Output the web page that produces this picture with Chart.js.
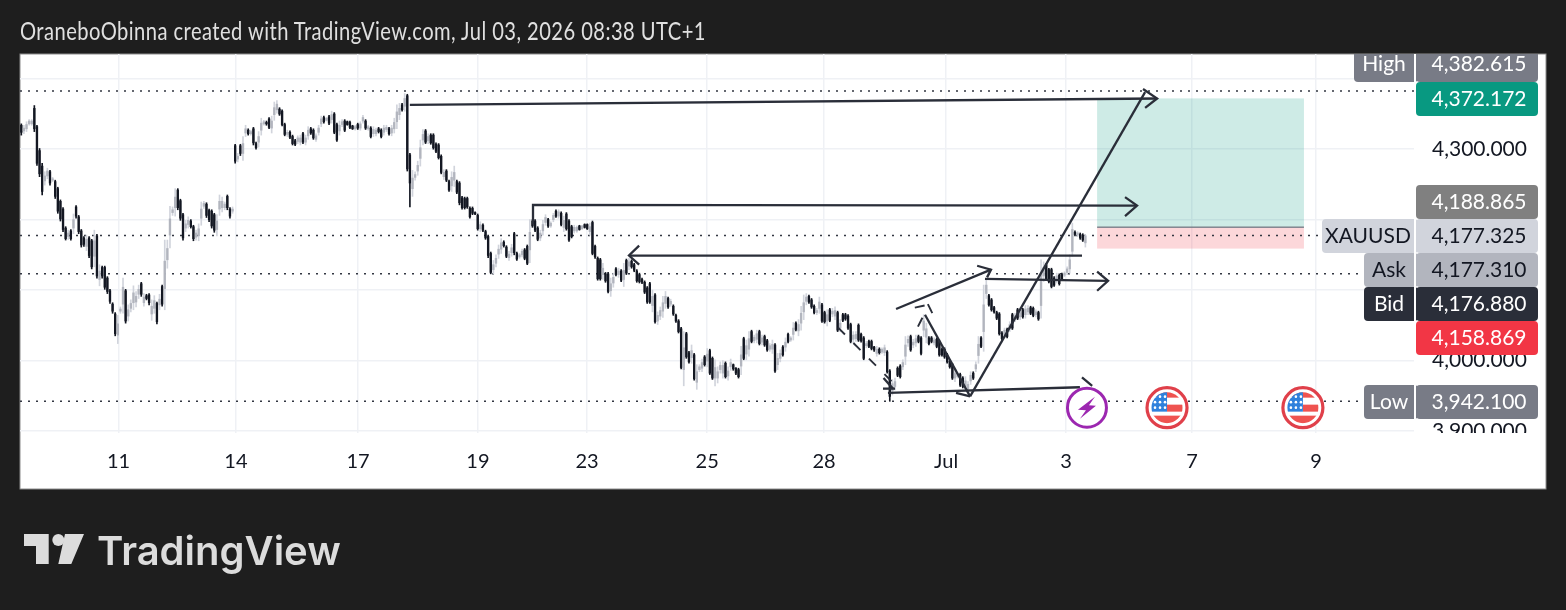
<!DOCTYPE html>
<html><head><meta charset="utf-8">
<script src="https://cdn.jsdelivr.net/npm/chart.js@4"></script>
<style>
html,body{margin:0;padding:0;background:#1e1e1e;width:1566px;height:610px;overflow:hidden}
#c{position:absolute;left:0;top:0}
#t{position:absolute;left:20px;top:15px;color:#e0e0e0;font:25px Lato,sans-serif;letter-spacing:0.55px;white-space:nowrap;transform:scaleX(0.806);transform-origin:left top}
#logo{position:absolute;left:24px;top:534px}
#lt{position:absolute;left:97px;top:526px;color:#dcdcdc;font:600 40px Inter,sans-serif;letter-spacing:0;white-space:nowrap}
</style></head><body>
<canvas id="c" width="1566" height="610"></canvas>
<div id="t">OraneboObinna created with TradingView.com, Jul 03, 2026 08:38 UTC+1</div>
<svg id="logo" width="62" height="32" viewBox="0 0 62 32"><path fill="#dcdcdc" d="M0 0H24.7V30H12V12H0Z M41 0H60L47.3 30H34.3Z"/><circle cx="34.3" cy="6" r="6" fill="#dcdcdc"/></svg>
<div id="lt">TradingView</div>
<script>
const opens=[4334,4326,4329,4336,4336,4358,4332,4298,4276,4255,
4262,4268,4256,4254,4244,4226,4215,4188,4176,4184,
4188,4218,4204,4184,4174,4162,4174,4170,4148,4177,
4115,4132,4132,4117,4099,4080,4066,4036,4070,4080,
4099,4063,4074,4082,4083,4094,4109,4082,4092,4093,
4066,4074,4081,4079,4105,4102,4143,4178,4210,4217,
4242,4227,4207,4188,4193,4198,4190,4175,4177,4202,
4219,4222,4213,4212,4207,4186,4215,4217,4217,4233,
4215,4212,4305,4286,4305,4294,4323,4327,4322,4329,
4308,4310,4327,4336,4338,4343,4330,4349,4356,4357,
4354,4335,4321,4324,4318,4312,4311,4310,4322,4310,
4319,4329,4327,4314,4324,4336,4345,4341,4346,4342,
4350,4335,4326,4335,4340,4339,4338,4333,4329,4335,
4330,4340,4340,4329,4330,4322,4322,4329,4327,4324,
4328,4329,4323,4329,4339,4349,4363,4361,4376,4292,
4244,4260,4269,4287,4313,4326,4312,4320,4320,4307,
4306,4290,4261,4269,4254,4248,4256,4254,4252,4231,
4230,4230,4216,4216,4210,4206,4187,4192,4183,4176,
4152,4129,4138,4151,4158,4168,4161,4146,4153,4180,
4152,4147,4150,4157,4162,4157,4198,4198,4188,4174,
4184,4196,4200,4191,4200,4212,4205,4209,4189,4208,
4198,4190,4184,4184,4191,4187,4193,4193,4183,4196,
4162,4145,4143,4122,4123,4123,4099,4110,4130,4122,
4127,4115,4142,4134,4141,4136,4127,4122,4115,4111,
4103,4109,4078,4093,4056,4063,4070,4081,4088,4080,
4077,4064,4056,4045,3987,4038,4011,4004,4008,3969,
3987,3989,4005,3999,4014,4003,3975,3975,3987,3982,
3996,3978,3991,3994,3989,3987,3992,4031,4009,4016,
4041,4028,4030,4041,4026,4034,4028,4016,4016,4022,
3994,4003,4019,4019,4037,4029,4037,4053,4042,4053,
4069,4084,4091,4086,4077,4068,4074,4079,4068,4056,
4072,4066,4063,4068,4046,4065,4065,4063,4051,4030,
4031,4050,4037,4032,4021,4027,4027,4019,4010,4016,
4012,4011,4012,3985,3957,3963,3989,3992,3991,4006,
4025,4034,4022,4025,4034,4032,4043,4033,4032,4032,
4025,4030,4027,4016,4016,4008,3999,3994,3975,3977,
3980,3975,3963,3960,3971,3982,3988,4007,4032,4041,
4095,4092,4086,4075,4068,4066,4039,4037,4044,4045,
4065,4059,4072,4062,4072,4065,4069,4075,4074,4065,
4068,4078,4120,4136,4129,4129,4117,4114,4121,4122,
4121,4125,4130,4155,4182,4178,4179,4178,4167];
const highs=[4336,4334,4339,4342,4342,4362,4334,4301,4280,4268,
4273,4270,4260,4256,4246,4228,4217,4190,4185,4186,
4208,4220,4206,4186,4176,4178,4176,4172,4185,4179,
4136,4134,4134,4119,4101,4082,4068,4064,4076,4117,
4101,4079,4086,4106,4098,4107,4111,4095,4094,4095,
4086,4092,4083,4094,4107,4171,4171,4219,4218,4244,
4244,4229,4209,4199,4204,4200,4192,4185,4194,4225,
4226,4224,4215,4214,4209,4207,4235,4232,4225,4235,
4217,4218,4307,4294,4307,4318,4334,4329,4327,4331,
4310,4325,4344,4341,4340,4345,4347,4367,4369,4359,
4356,4337,4327,4326,4320,4314,4319,4320,4324,4320,
4332,4331,4329,4322,4334,4347,4347,4345,4348,4354,
4352,4337,4340,4342,4342,4340,4340,4334,4334,4337,
4339,4348,4342,4334,4332,4332,4330,4331,4329,4334,
4334,4331,4334,4344,4363,4365,4365,4379,4378,4294,
4270,4268,4283,4313,4328,4328,4322,4322,4322,4309,
4308,4292,4271,4271,4256,4268,4276,4256,4254,4233,
4232,4232,4218,4218,4211,4208,4197,4194,4185,4178,
4154,4142,4150,4164,4173,4170,4163,4155,4165,4182,
4154,4152,4158,4159,4164,4200,4200,4200,4190,4185,
4199,4207,4202,4197,4209,4214,4214,4211,4205,4210,
4200,4192,4192,4191,4192,4192,4194,4194,4195,4198,
4164,4147,4145,4138,4125,4125,4117,4124,4132,4131,
4129,4138,4144,4145,4143,4138,4129,4124,4117,4113,
4105,4111,4100,4095,4069,4076,4091,4098,4090,4087,
4079,4066,4058,4047,4041,4040,4013,4022,4010,3994,
3994,4002,4007,4017,4016,4005,4001,3991,3998,4000,
3998,3991,4002,3995,3990,3989,4020,4033,4029,4041,
4043,4036,4043,4043,4036,4036,4030,4024,4029,4024,
4010,4015,4021,4032,4039,4034,4054,4055,4058,4077,
4093,4095,4093,4088,4079,4074,4090,4081,4070,4072,
4074,4074,4076,4070,4058,4067,4067,4065,4053,4041,
4041,4052,4039,4034,4027,4029,4029,4020,4020,4018,
4018,4022,4014,3987,3973,3975,3991,3994,4001,4034,
4035,4036,4030,4036,4036,4034,4065,4053,4034,4034,
4032,4032,4029,4018,4018,4010,4001,3996,3987,3982,
3982,3977,3977,3970,3984,3984,3998,4034,4034,4107,
4114,4094,4088,4077,4070,4068,4041,4046,4046,4055,
4067,4067,4074,4072,4074,4078,4078,4077,4076,4072,
4070,4143,4140,4138,4131,4131,4119,4124,4123,4124,
4126,4133,4150,4195,4184,4183,4181,4180,4178];
const lows=[4320,4322,4325,4334,4334,4325,4277,4261,4235,4249,
4258,4249,4254,4230,4209,4198,4183,4171,4172,4171,
4180,4202,4180,4161,4162,4156,4146,4130,4133,4117,
4106,4117,4101,4095,4081,4067,4035,4024,4067,4067,
4053,4056,4069,4072,4076,4088,4091,4077,4086,4079,
4057,4067,4052,4072,4077,4072,4131,4160,4206,4205,
4214,4199,4171,4183,4188,4188,4170,4171,4170,4192,
4216,4203,4197,4188,4182,4177,4206,4211,4214,4214,
4202,4209,4280,4282,4291,4284,4318,4320,4320,4306,
4300,4303,4320,4334,4334,4329,4323,4341,4351,4348,
4333,4319,4318,4315,4306,4305,4308,4306,4308,4306,
4314,4321,4314,4311,4320,4332,4337,4340,4335,4337,
4322,4311,4320,4332,4325,4334,4329,4328,4327,4328,
4327,4337,4328,4327,4316,4318,4319,4323,4316,4320,
4325,4320,4319,4323,4329,4342,4354,4354,4269,4218,
4233,4256,4263,4276,4306,4308,4308,4307,4300,4295,
4286,4265,4257,4254,4240,4240,4247,4237,4221,4215,
4215,4216,4202,4207,4207,4185,4183,4183,4172,4146,
4123,4123,4133,4145,4152,4161,4146,4142,4148,4150,
4142,4145,4147,4143,4136,4139,4189,4183,4170,4170,
4178,4192,4189,4189,4197,4203,4202,4191,4183,4185,
4169,4174,4181,4182,4185,4186,4188,4186,4178,4150,
4145,4114,4114,4115,4111,4096,4091,4104,4120,4118,
4112,4105,4122,4129,4131,4126,4111,4110,4109,4095,
4081,4081,4069,4053,4051,4058,4061,4074,4074,4077,
4064,4054,4039,3988,3964,4003,3996,3996,3972,3959,
3984,3984,3992,3991,3980,3973,3964,3968,3982,3975,
3975,3972,3986,3986,3980,3975,3980,4001,4001,4006,
4025,4025,4025,4022,4022,4020,4013,4013,4010,3983,
3987,3998,4006,4013,4025,4027,4029,4042,4035,4043,
4058,4079,4081,4074,4066,4065,4067,4054,4053,4049,
4055,4062,4058,4041,4041,4055,4057,4044,4025,4025,
4027,4027,4026,4001,4018,4018,4015,4013,4006,4009,
4010,4007,3982,3942,3951,3958,3977,3975,3987,3994,
4020,4013,4018,4020,4025,4008,4034,4025,4022,4025,
4022,4018,4006,4006,4003,3996,3989,3973,3970,3975,
3963,3961,3958,3956,3966,3973,3984,3996,4018,4013,
4088,4077,4070,4067,4058,4036,4029,4034,4032,4041,
4044,4055,4058,4058,4060,4060,4065,4065,4062,4062,
4057,4060,4112,4114,4110,4103,4105,4110,4107,4114,
4119,4122,4124,4148,4177,4176,4172,4169,4161];
const closes=[4324,4330,4335,4340,4340,4329,4280,4265,4240,4262,
4269,4252,4258,4233,4212,4201,4186,4173,4181,4173,
4200,4205,4183,4164,4165,4172,4149,4133,4170,4120,
4127,4120,4104,4098,4084,4070,4038,4052,4073,4104,
4056,4072,4081,4096,4091,4101,4094,4090,4088,4082,
4077,4085,4055,4087,4080,4141,4159,4201,4214,4232,
4217,4202,4174,4194,4199,4190,4173,4181,4187,4215,
4223,4206,4200,4191,4185,4198,4226,4226,4222,4217,
4205,4215,4283,4290,4294,4308,4329,4322,4325,4309,
4302,4318,4337,4339,4336,4331,4340,4359,4364,4350,
4335,4321,4324,4317,4308,4307,4316,4316,4310,4316,
4327,4323,4316,4319,4330,4343,4339,4344,4337,4349,
4324,4313,4334,4339,4327,4335,4331,4329,4332,4330,
4336,4345,4330,4332,4318,4328,4327,4325,4318,4330,
4331,4322,4330,4338,4353,4358,4356,4372,4272,4252,
4259,4264,4277,4302,4321,4310,4318,4309,4302,4297,
4288,4267,4267,4256,4242,4260,4267,4239,4224,4217,
4217,4218,4204,4209,4208,4187,4193,4185,4174,4149,
4125,4136,4145,4158,4167,4163,4148,4151,4160,4153,
4144,4150,4155,4145,4138,4182,4191,4185,4172,4181,
4193,4203,4191,4195,4206,4205,4211,4193,4199,4187,
4171,4176,4189,4189,4186,4191,4189,4187,4190,4152,
4147,4116,4116,4131,4113,4098,4109,4118,4122,4127,
4114,4128,4124,4140,4133,4128,4113,4112,4111,4097,
4083,4083,4091,4055,4064,4071,4082,4091,4076,4084,
4066,4056,4041,3990,4018,4005,3998,4014,3974,3984,
3991,3997,3994,4009,3982,3975,3990,3984,3993,3993,
3977,3985,3997,3988,3982,3977,4008,4003,4021,4031,
4027,4033,4038,4024,4032,4022,4015,4021,4023,3985,
4003,4010,4008,4026,4027,4032,4046,4044,4051,4067,
4082,4090,4083,4076,4068,4071,4083,4056,4055,4065,
4057,4070,4071,4043,4053,4057,4059,4046,4027,4036,
4037,4029,4028,4003,4024,4020,4017,4015,4016,4011,
4016,4018,3984,3949,3967,3970,3979,3977,3997,4022,
4030,4015,4026,4031,4027,4010,4056,4045,4024,4027,
4029,4020,4008,4008,4005,3998,3991,3975,3982,3980,
3965,3963,3971,3966,3979,3975,3994,4023,4020,4079,
4107,4079,4072,4069,4060,4038,4031,4043,4034,4051,
4046,4063,4060,4068,4062,4073,4074,4067,4064,4069,
4059,4122,4132,4116,4112,4105,4107,4120,4109,4116,
4124,4130,4143,4186,4179,4181,4174,4171,4177];
const xTickPos=[37.3,82.3,129.1,175.1,216.9,263,307.8,354.6,400.6,448.9,496.4];
const xTickLabels=["11","14","17","19","23","25","28","Jul","3","7","9"];
const yTicks=[3900,4000,4100,4200,4300,4400];
const xMin=-0.5,xMax=534,yMin=3897,yMax=4435.2;
const priceLines=[4382.615,4177.325,4123,3942.1];
const targetTop=4372.172,entry=4188.865,stop=4158.869,posLeft=412.5,posRight=491.8;
const solidPaths=[
 [[149,4363],[435.5,4372]],[[430.1,4385.5],[435.5,4372],[430.9,4358.6]],
 [[196.2,4193],[196.2,4221],[427.8,4220]],[[423.2,4232],[427.8,4220],[423.2,4205]],
 [[406.7,4149],[233,4149]],[[236.9,4163],[233,4149],[236.9,4136]],
 [[335.4,4073],[371.8,4129]],[[366.5,4134.5],[371.8,4129],[370.3,4118]],
 [[369.5,4116],[416.7,4113]],[[412.5,4126],[416.7,4113],[412.5,4099]],
 [[363.8,3949],[430.9,4381]],
 [[346.5,4065],[363.8,3949]],[[358.4,3954],[363.8,3949]],
 [[332.3,3954],[405.9,3962]],[[406.7,3976],[410.6,3964]],
 [[330.4,3960],[335,3960]],[[330.6,3975],[334.2,3960]]];
const dashedPaths=[[[313.1,4047],[334.2,3968.5]],[[343.8,4048],[345.7,4062]],[[342.6,4075],[347.6,4079]],[[347.6,4080],[349.6,4065]]];
const boltIcon=[408.6,3933],flagIcons=[[439.3,3933],[491.4,3933]];
const badges=[
 {y0:44,y1:82,bg:"#787b86",fg:"#fff",val:"4,382.615",tag:"High",tx:1354},
 {y0:82,y1:116,bg:"#089981",fg:"#fff",val:"4,372.172"},
 {y0:185,y1:219,bg:"#808080",fg:"#fff",val:"4,188.865"},
 {y0:219,y1:253,bg:"#d1d4dc",fg:"#131722",val:"4,177.325",tag:"XAUUSD",tx:1322},
 {y0:253,y1:287,bg:"#b2b5be",fg:"#131722",val:"4,177.310",tag:"Ask",tx:1364},
 {y0:287,y1:321,bg:"#2a2e39",fg:"#fff",val:"4,176.880",tag:"Bid",tx:1364},
 {y0:321,y1:355,bg:"#f23645",fg:"#fff",val:"4,158.869"},
 {y0:385,y1:419,bg:"#787b86",fg:"#fff",val:"3,942.100",tag:"Low",tx:1364}];
const FAM="Lato,sans-serif";
const FONT="21px "+FAM;
const DARK="#131722",LB="#b2b5be",LW="#d1d4dc";
const isUp=opens.map((o,i)=>closes[i]>=o);
const toPts=p=>p.map(a=>({x:a[0],y:a[1]}));
const lineDs=(p,dash,order,col,w)=>({type:"line",data:toPts(p),borderColor:col,borderWidth:w,borderDash:dash,pointRadius:0,order,tension:0,fill:false});
const plugin={id:"tv",
 beforeDraw(ch){const c=ch.ctx;c.save();c.fillStyle="#fff";c.fillRect(20,54,1526,435);c.strokeStyle="#8c8c8c";c.lineWidth=1;c.strokeRect(20,54,1526,435);c.restore();},
 beforeDatasetsDraw(ch){const c=ch.ctx,x=ch.scales.x,y=ch.scales.y;c.save();
  const l=x.getPixelForValue(posLeft),r=x.getPixelForValue(posRight);
  c.fillStyle="rgba(8,153,129,0.2)";c.fillRect(l,y.getPixelForValue(targetTop),r-l,y.getPixelForValue(entry)-y.getPixelForValue(targetTop));
  c.fillStyle="rgba(242,54,69,0.2)";c.fillRect(l,y.getPixelForValue(entry),r-l,y.getPixelForValue(stop)-y.getPixelForValue(entry));
  c.fillStyle="rgba(120,123,134,0.9)";c.fillRect(l,y.getPixelForValue(entry)-1,r-l,1.5);
  c.restore();},
 afterDatasetsDraw(ch){const c=ch.ctx,x=ch.scales.x,y=ch.scales.y;c.save();
  c.fillStyle="#fff";c.fillRect(1414,433,131,16);
  c.beginPath();c.rect(20,54,1526,435);c.clip();
  const rr=(a,b,w,h,f)=>{c.fillStyle=f;c.beginPath();c.roundRect(a,b,w,h,4);c.fill();};
  c.textBaseline="middle";c.textAlign="center";c.font=FONT;
  for(const b of badges){
   if(b.tag){rr(b.tx,b.y0,1418-b.tx,b.y1-b.y0,b.bg);}
   rr(1416,b.y0,122,b.y1-b.y0,b.bg);
   c.fillStyle="#fff";c.fillRect(1414,b.y0,2,b.y1-b.y0);
   c.fillStyle=b.fg;
   c.fillText(b.val,1479,(b.y0+b.y1)/2+ (b.y0<54?1:0));
   if(b.tag)c.fillText(b.tag,(b.tx+1414)/2,(b.y0+b.y1)/2+(b.y0<54?1:0));
  }
  {const px=x.getPixelForValue(boltIcon[0]),py=y.getPixelForValue(boltIcon[1]);
   c.fillStyle="#fff";c.strokeStyle="#9c27b0";c.lineWidth=3;c.beginPath();c.arc(px,py,19.5,0,7);c.fill();c.stroke();
   c.fillStyle="#9c27b0";c.beginPath();c.moveTo(px+8,py-11);c.lineTo(px-9,py+2);c.lineTo(px-1,py+2.5);c.lineTo(px-7,py+11);c.lineTo(px+9,py-2);c.lineTo(px+2,py-2.5);c.closePath();c.fill();}
  for(const f of flagIcons){const px=x.getPixelForValue(f[0]),py=y.getPixelForValue(f[1]);
   c.fillStyle="#fff";c.strokeStyle="#e0404a";c.lineWidth=3.2;c.beginPath();c.arc(px,py,20,0,7);c.fill();c.stroke();
   c.save();c.beginPath();c.arc(px,py,15.5,0,7);c.clip();
   c.fillStyle="#ef5350";c.fillRect(px-16,py-16,32,6);c.fillRect(px,py-3,16,7);c.fillRect(px-16,py+8,32,8);
   c.fillStyle="#2f81dc";c.fillRect(px-16,py-16,16,20);
   c.fillStyle="#fff";for(let r=0;r<3;r++)for(let k=0;k<3;k++){c.beginPath();c.arc(px-12+k*5,py-11+r*5.5,1.3,0,7);c.fill();}
   c.restore();}
  c.restore();}
};
new Chart(document.getElementById("c"),{
 type:"bar",
 plugins:[plugin],
 data:{datasets:[
  {type:"bar",data:highs.map((h,i)=>({x:i,y:[lows[i],h]})),backgroundColor:isUp.map(u=>u?LW:DARK),barThickness:1,grouped:false,order:3,borderWidth:0},
  {type:"bar",data:opens.map((o,i)=>({x:i,y:[Math.min(o,closes[i]),Math.max(o,closes[i])]})),backgroundColor:isUp.map(u=>u?LB:DARK),barThickness:1.7,grouped:false,order:2,borderWidth:0},
  ...priceLines.map(p=>lineDs([[xMin,p],[xMax,p]],[2,6],4,"#333742",1.5)),
  ...solidPaths.map(p=>lineDs(p,[],1,"#2a2e39",2.3)),
  ...dashedPaths.map(p=>lineDs(p,[10,12],1,"#2a2e39",1.9))
 ]},
 options:{
  responsive:false,animation:false,devicePixelRatio:1,
  layout:{padding:{left:20,top:54,right:20,bottom:121}},
  plugins:{legend:{display:false},tooltip:{enabled:false},title:{display:false}},
  scales:{
   x:{type:"linear",offset:false,min:xMin,max:xMax,
    afterBuildTicks(s){s.ticks=xTickPos.map(v=>({value:v}));},
    afterFit(s){s.height=56;},
    grid:{offset:false,color:"#eff1f5",lineWidth:1.5,drawTicks:false},border:{display:false},
    ticks:{autoSkip:false,maxRotation:0,padding:17,color:"#131722",font:{family:FAM,size:20},callback:(v,i)=>xTickLabels[i]}},
   y:{type:"linear",position:"right",min:yMin,max:yMax,
    afterBuildTicks(s){s.ticks=yTicks.map(v=>({value:v}));},
    afterFit(s){s.width=132;},
    grid:{color:"#eff1f5",lineWidth:1.5,drawTicks:false},border:{display:false},
    ticks:{autoSkip:false,padding:18,color:"#131722",font:{family:FAM,size:21},
     callback:v=>v.toLocaleString("en-US",{minimumFractionDigits:3,maximumFractionDigits:3})}}
  }
 }
});
</script>
</body></html>
